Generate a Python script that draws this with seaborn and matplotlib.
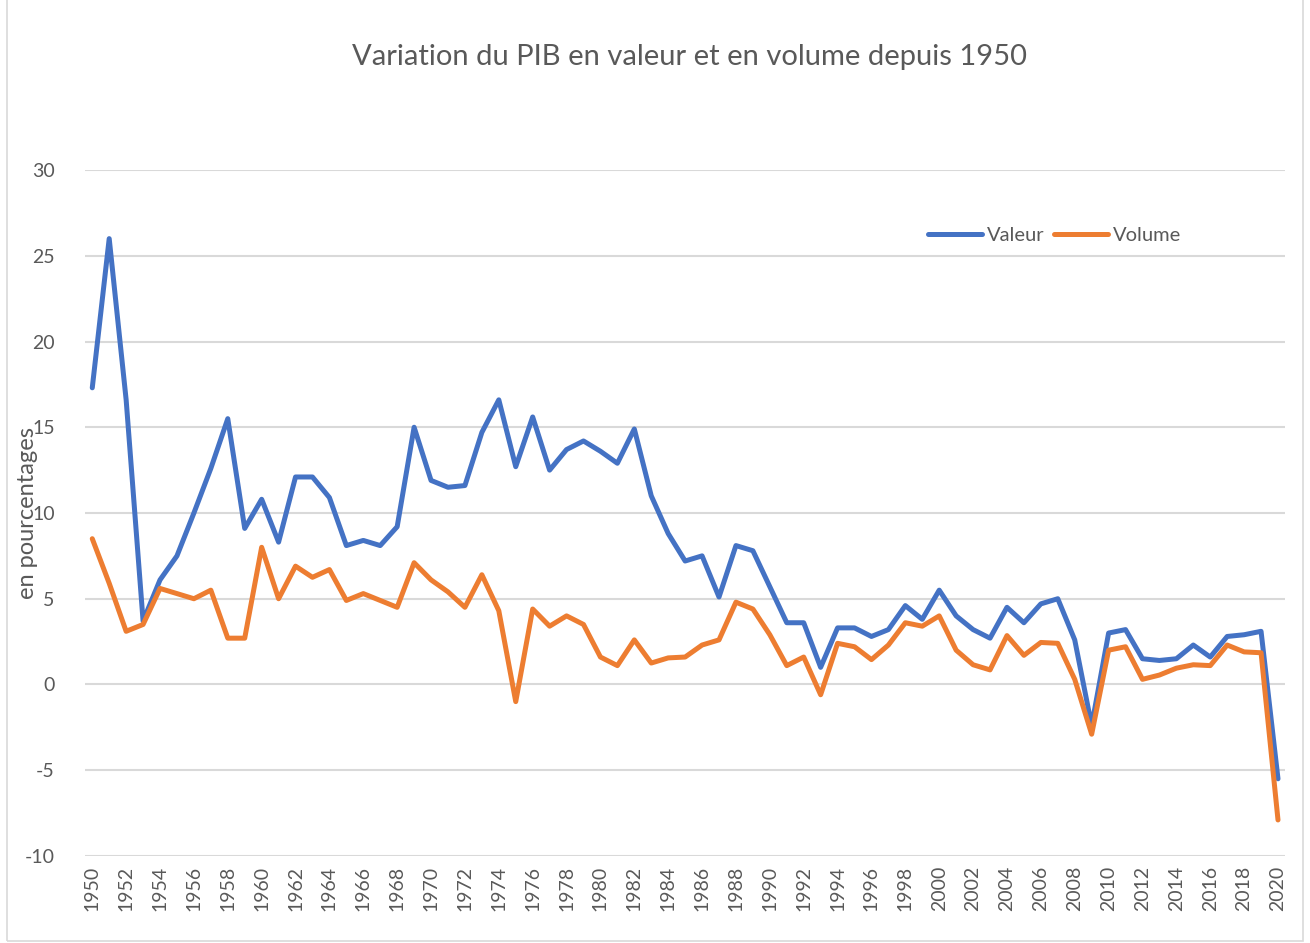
import numpy as np
import pandas as pd
import matplotlib
matplotlib.use("Agg")
import matplotlib.pyplot as plt
import seaborn as sns
from matplotlib.patches import Rectangle

# Data (annual % change of French GDP)
years = list(range(1950, 2021))
valeur = [17.3, 26.0, 16.6, 3.7, 6.1, 7.5, 10.0, 12.6, 15.5, 9.1,
          10.8, 8.3, 12.1, 12.1, 10.9, 8.1, 8.4, 8.1, 9.2, 15.0,
          11.9, 11.5, 11.6, 14.7, 16.6, 12.7, 15.6, 12.5, 13.7, 14.2,
          13.6, 12.9, 14.9, 11.0, 8.8, 7.2, 7.5, 5.1, 8.1, 7.8,
          5.7, 3.6, 3.6, 1.0, 3.3, 3.3, 2.8, 3.2, 4.6, 3.8,
          5.5, 4.0, 3.2, 2.7, 4.5, 3.6, 4.7, 5.0, 2.6, -2.4,
          3.0, 3.2, 1.5, 1.4, 1.5, 2.3, 1.6, 2.8, 2.9, 3.1,
          -5.5]
volume = [8.5, 5.9, 3.1, 3.5, 5.6, 5.3, 5.0, 5.5, 2.7, 2.7,
          8.0, 5.0, 6.9, 6.25, 6.7, 4.9, 5.3, 4.9, 4.5, 7.1,
          6.1, 5.4, 4.5, 6.4, 4.3, -1.0, 4.4, 3.4, 4.0, 3.5,
          1.6, 1.1, 2.6, 1.25, 1.55, 1.6, 2.3, 2.6, 4.8, 4.4,
          2.9, 1.1, 1.6, -0.6, 2.4, 2.2, 1.45, 2.3, 3.6, 3.4,
          4.0, 2.0, 1.15, 0.85, 2.85, 1.7, 2.45, 2.4, 0.3, -2.9,
          2.0, 2.2, 0.3, 0.55, 0.95, 1.15, 1.1, 2.3, 1.9, 1.85,
          -7.9]
series_names = ["Valeur", "Volume"]
y_ticks = [-10, -5, 0, 5, 10, 15, 20, 25, 30]

df = pd.DataFrame({"annee": years, "Valeur": valeur, "Volume": volume})
long_df = df.melt(id_vars="annee", value_vars=series_names,
                  var_name="serie", value_name="variation")

sns.set_style("white")
plt.rcParams['font.family'] = ['Lato', 'DejaVu Sans']
plt.rcParams['axes.unicode_minus'] = False

fig = plt.figure(figsize=(13.1, 9.43), dpi=100)
ax = fig.add_axes([0.065, 0.0923, 0.916, 0.7274])

palette = {"Valeur": "#4472C4", "Volume": "#ED7D31"}
sns.lineplot(data=long_df, x="annee", y="variation", hue="serie",
             palette=palette, linewidth=3.6, ax=ax, legend=True)

ax.set_xlim(1949.58, 2020.42)
ax.set_ylim(-10, 30)
ax.set_yticks(y_ticks)
ax.set_xticks(years[::2])
ax.set_xticklabels([str(y) for y in years[::2]], rotation=90)
ax.tick_params(axis='both', length=0, labelsize=14, colors='#595959')
ax.tick_params(axis='x', pad=7)
ax.tick_params(axis='y', pad=22)
ax.grid(True, axis='y', color='#D9D9D9', linewidth=1.5)
ax.set_axisbelow(True)
for s in ax.spines.values():
    s.set_visible(False)

# the axis title sits over the tick labels, as in the original
ax.set_xlabel('')
ax.set_ylabel('en pourcentages', fontsize=17, color='#595959')
ax.yaxis.set_label_coords(-0.039, 0.5)

ax.legend(loc='center', bbox_to_anchor=(0.808, 0.904), ncol=2, frameon=False,
          fontsize=14.5, handlelength=2.7, columnspacing=0.45, handletextpad=0.25,
          labelcolor='#595959')

fig.text(0.526, 0.94, 'Variation du PIB en valeur et en volume depuis 1950',
         ha='center', va='center', fontsize=21, color='#595959')

fig.patches.append(Rectangle((0.005, 0.002), 0.99, 1.2, transform=fig.transFigure,
                             fill=False, edgecolor='#D9D9D9', linewidth=1.2))

fig.savefig('out.png', dpi=100)
